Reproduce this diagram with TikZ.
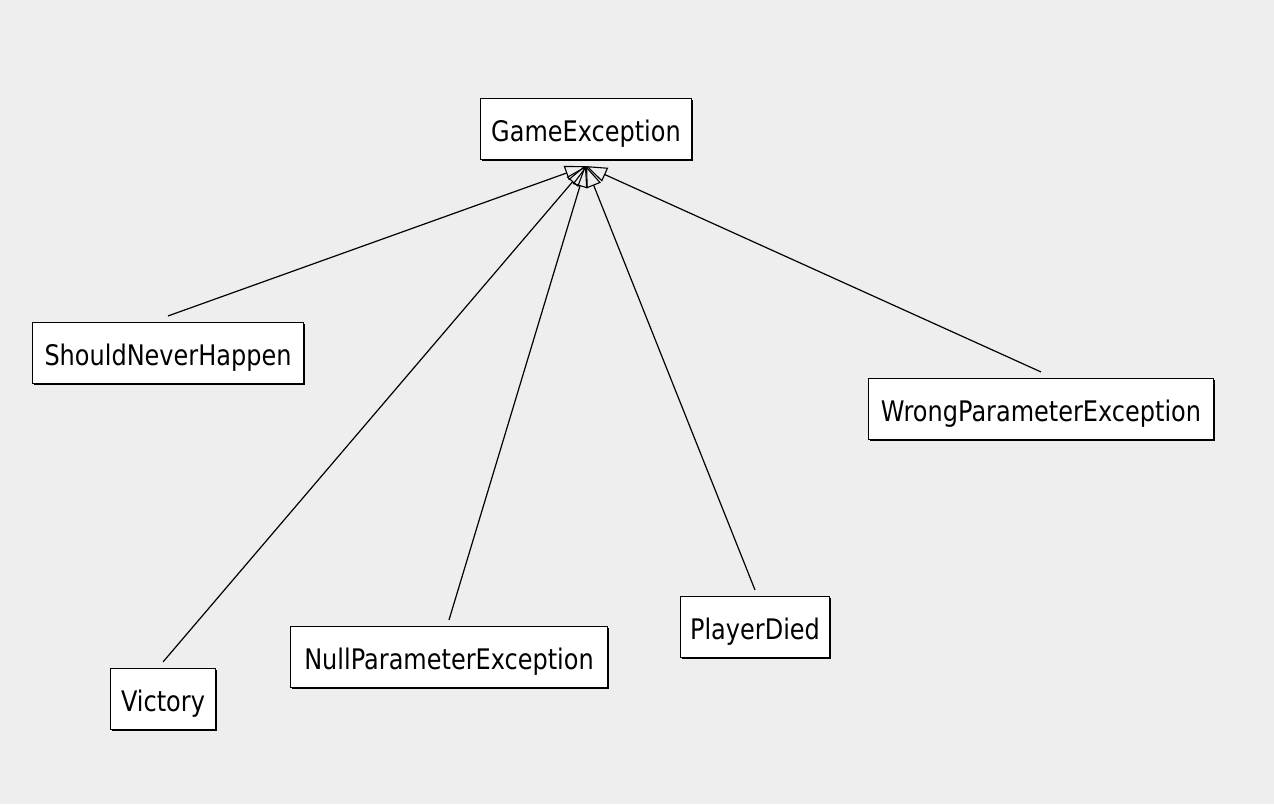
\documentclass[tikz,border=0pt]{standalone}
\usepackage{fontspec}
\usepackage{graphicx}
\newfontfamily\umlfont{DejaVu Sans}
\usetikzlibrary{arrows.meta,shadows}
\definecolor{bgcol}{HTML}{EEEEEE}
\newcommand\umllbl[1]{\scalebox{1}[1.18]{#1}}
\begin{document}
\begin{tikzpicture}[x=1pt,y=-1pt,
  cls/.style={draw=black, line width=1.1pt, fill=white, inner sep=0pt,
    minimum height=61pt, text height=25.4pt, text depth=0pt,
    font=\umlfont\fontsize{24}{28}\selectfont,
    drop shadow={shadow xshift=1.4pt, shadow yshift=-1.4pt, fill=black, opacity=1}},
  inh/.style={line width=1.2pt, -{Triangle[open, length=21pt, width=15pt, line width=1.1pt]}}
]
\fill[bgcol] (0,0) rectangle (1274,804);
\useasboundingbox (0,0) rectangle (1274,804);

\node[cls, minimum width=211pt] (ge)  at (586,129) {\umllbl{GameException}};
\node[cls, minimum width=271pt] (snh) at (168,353) {\umllbl{ShouldNeverHappen}};
\node[cls, minimum width=345pt] (wpe) at (1041,409) {\umllbl{WrongParameterException}};
\node[cls, minimum width=105pt] (vic) at (163,699) {\umllbl{Victory}};
\node[cls, minimum width=317pt] (npe) at (449,657) {\umllbl{NullParameterException}};
\node[cls, minimum width=149pt] (pd)  at (755,627) {\umllbl{PlayerDied}};

\coordinate (apex) at ([yshift=-6pt]ge.south);

\draw[inh] ([yshift=6pt]snh.north) -- (apex);
\draw[inh] ([yshift=6pt]vic.north) -- (apex);
\draw[inh] ([yshift=6pt]npe.north) -- (apex);
\draw[inh] ([yshift=6pt]pd.north) -- (apex);
\draw[inh] ([yshift=6pt]wpe.north) -- (apex);
\end{tikzpicture}
\end{document}
